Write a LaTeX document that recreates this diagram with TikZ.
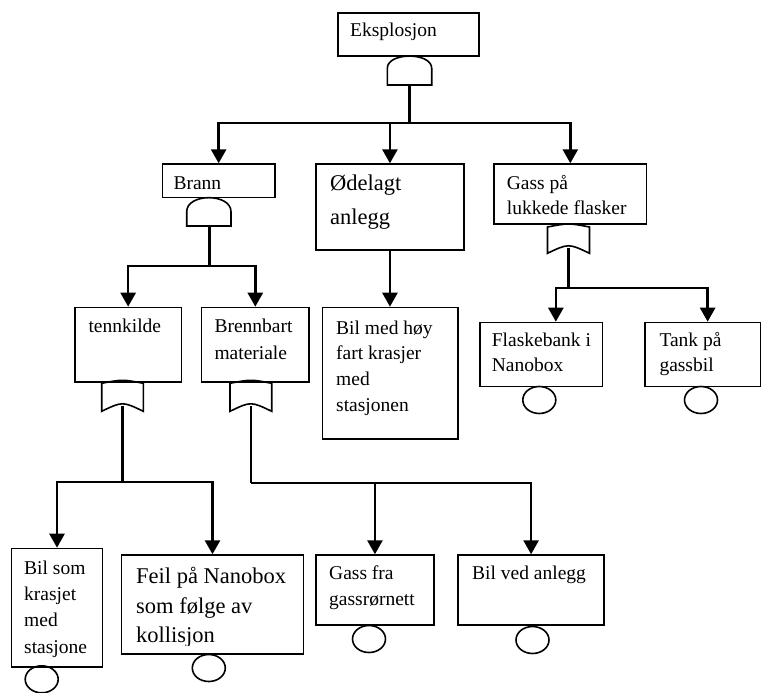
\documentclass[tikz,border=0pt]{standalone}
\usepackage{fontspec}
\setmainfont{Liberation Serif}
\usetikzlibrary{arrows.meta,shapes.geometric,calc}
\newcommand\mlines[2]{\vtop{\baselineskip=#1pt\relax #2}}
\begin{document}
\begin{tikzpicture}[x=1pt,y=-1pt,
  box/.style={draw, line width=1.6pt, inner sep=0pt, anchor=north west},
  txt/.style={inner sep=0pt, anchor=base west, font=\fontsize{19.5}{26}\selectfont},
  bigtxt/.style={inner sep=0pt, anchor=base west, font=\fontsize{22.5}{30}\selectfont},
  conn/.style={line width=2.6pt},
  arr/.style={conn, -{Triangle[length=14pt,width=15pt]}},
  gate/.style={line width=1.6pt},
  leaf/.style={draw, ellipse, line width=1.6pt, minimum width=33pt, minimum height=27pt, inner sep=0pt}]
\useasboundingbox (0,0) rectangle (761,693);

% boxes
\node[box, minimum width=141pt,   minimum height=43pt]    (eks)     at (337,12) {};
\node[box, minimum width=112.3pt, minimum height=33.4pt]  (brann)   at (161.7,163.3) {};
\node[box, minimum width=148.3pt, minimum height=86pt]    (odel)    at (315,163.3) {};
\node[box, minimum width=152.4pt, minimum height=60pt]    (gass)    at (493.3,163.3) {};
\node[box, minimum width=106.7pt, minimum height=74.3pt]  (tenn)    at (74,306.7) {};
\node[box, minimum width=107.6pt, minimum height=74.3pt]  (brenn)   at (200.7,306.7) {};
\node[box, minimum width=135.6pt, minimum height=131.6pt] (bilhoy)  at (321.7,306.7) {};
\node[box, minimum width=122.7pt, minimum height=64pt]    (flask)   at (479,321.7) {};
\node[box, minimum width=115.5pt, minimum height=64pt]    (tank)    at (644.3,321.7) {};
\node[box, minimum width=91pt,    minimum height=118.3pt] (bilsom)  at (10.7,547.7) {};
\node[box, minimum width=182pt,   minimum height=99pt]    (feil)    at (120.7,554.3) {};
\node[box, minimum width=118.3pt, minimum height=70pt]    (gassfra) at (315,554.3) {};
\node[box, minimum width=146pt,   minimum height=70pt]    (bilved)  at (457.3,554.3) {};

% texts
\node[txt] (eks-t)   at (350,36.5) {Eksplosjon};
\node[txt] (brann-t) at (173.3,189.3) {Brann};
\node[bigtxt] (odel-t) at (330,190.7) {\mlines{33.3}{\hbox{Ødelagt}\hbox{anlegg}}};
\node[txt] (gass-t)  at (506.7,189.3) {\mlines{25}{\hbox{Gass på}\hbox{lukkede flasker}}};
\node[txt] (tenn-t)  at (88.3,332.3) {tennkilde};
\node[txt] (brenn-t) at (214.3,332.3) {\mlines{26.7}{\hbox{Brennbart}\hbox{materiale}}};
\node[txt] (bilhoy-t) at (336,334) {\mlines{25.7}{\hbox{Bil med høy}\hbox{fart krasjer}\hbox{med}\hbox{stasjonen}}};
\node[txt] (flask-t) at (491.7,346.7) {\mlines{25}{\hbox{Flaskebank i}\hbox{Nanobox}}};
\node[txt] (tank-t)  at (659.3,346.7) {\mlines{25}{\hbox{Tank på}\hbox{gassbil}}};
\node[txt] (bilsom-t) at (24,574) {\mlines{26.4}{\hbox{Bil som}\hbox{krasjet}\hbox{med}\hbox{stasjone}}};
\begin{scope}
\clip (120,554) rectangle (303,645.5);
\node[bigtxt] (feil-t) at (136,583.3) {\mlines{29.7}{\hbox{Feil på Nanobox}\hbox{som følge av}\hbox{kollisjon}}};
\end{scope}
\node[txt] (gassfra-t) at (329,579) {\mlines{26.7}{\hbox{Gass fra}\hbox{gassrørnett}}};
\node[txt] (bilved-t) at (472,579) {Bil ved anlegg};

% AND gates
\draw[gate] (387.3,85) -- (387.3,68.3) .. controls (387.3,52) and (431.7,52) .. (431.7,68.3) -- (431.7,85) -- cycle;
\coordinate (g1) at (409.5,85);
\draw[gate] (186.7,226) -- (186.7,211.7) .. controls (186.7,193) and (231,193) .. (231,211.7) -- (231,226) -- cycle;
\coordinate (g2) at (209.5,226);

% OR gates
\draw[gate] (547.5,227) .. controls (568.5,223) .. (589.5,227) -- (589.5,253.3) .. controls (568.5,243.3) .. (547.5,253.3) -- cycle;
\coordinate (g3) at (568.5,248.3);
\draw[gate] (101.7,383.3) .. controls (122.5,379.3) .. (143.3,383.3) -- (143.3,411.3) .. controls (122.5,401.3) .. (101.7,411.3) -- cycle;
\coordinate (g4) at (122.7,406.3);
\draw[gate] (230,383.3) .. controls (250.8,379.3) .. (271.7,383.3) -- (271.7,411.3) .. controls (250.8,401.3) .. (230,411.3) -- cycle;
\coordinate (g5) at (250.8,406.3);

% basic events
\node[leaf] (c-flask)   at (539.3,400) {};
\node[leaf] (c-tank)    at (701,400) {};
\node[leaf] (c-bilsom)  at (41.7,679.3) {};
\node[leaf] (c-feil)    at (208.8,668) {};
\node[leaf] (c-gassfra) at (369,639) {};
\node[leaf] (c-bilved)  at (532.5,640) {};

% connectors
\coordinate (j1) at (409.5,123);
\draw[conn] (g1) -- (j1);
\draw[arr] (j1) -| (brann.north);
\draw[arr] (j1) -| (odel.north);
\draw[arr] (j1) -| (gass.north);

\draw[arr] (odel.south) -- (odel.south |- bilhoy.north);

\coordinate (j2) at (209.5,266);
\draw[conn] (g2) -- (j2);
\draw[arr] (j2) -| (tenn.north);
\draw[arr] (j2) -| (brenn.north);

\coordinate (j3) at (568.5,288);
\draw[conn] (g3) -- (j3);
\draw[arr] (j3) -| ([xshift=14.7pt]flask.north);
\draw[arr] (j3) -| ([xshift=4.8pt]tank.north);

\coordinate (j4) at (122.7,482);
\draw[conn] (g4) -- (j4);
\draw[arr] (j4) -| (bilsom.north);
\draw[arr] (j4) -| (feil.north);

\coordinate (j5) at (250.8,483);
\draw[conn] (g5) -- (j5);
\draw[arr] (j5) -| (gassfra.north);
\draw[arr] (j5) -| (bilved.north);
\end{tikzpicture}
\end{document}
